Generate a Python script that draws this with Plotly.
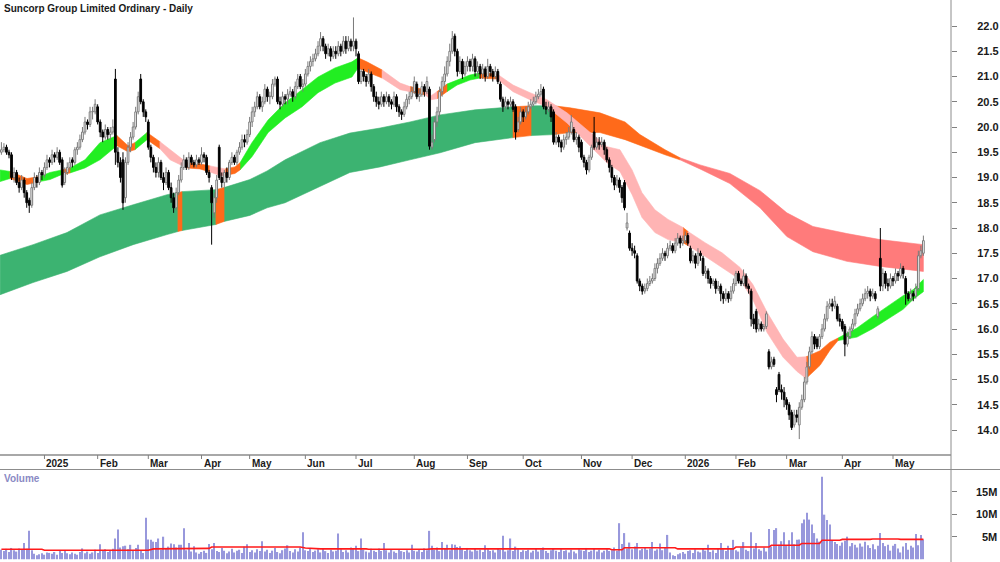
import plotly.graph_objects as go

TITLE = "Suncorp Group Limited Ordinary - Daily"

month_labels = ["2025", "Feb", "Mar", "Apr", "May", "Jun", "Jul", "Aug", "Sep",
                "Oct", "Nov", "Dec", "2026", "Feb", "Mar", "Apr", "May"]
month_start_idx = [17, 38, 58, 79, 98, 120, 140, 163, 184, 206, 229, 249, 270, 290, 310, 332, 352]

price_ticks = [14.0, 14.5, 15.0, 15.5, 16.0, 16.5, 17.0, 17.5, 18.0, 18.5,
               19.0, 19.5, 20.0, 20.5, 21.0, 21.5, 22.0]
volume_ticks = [5, 10, 15]
volume_tick_text = ["5M", "10M", "15M"]

opens = [
    19.5, 19.55, 19.6, 19.5, 19.45, 19.0, 19.1, 18.9, 18.8, 18.95,
    18.7, 18.55, 18.45, 18.8, 19.0, 18.9, 19.1, 19.05, 19.2, 19.35,
    19.3, 19.45, 19.4, 19.5, 19.35, 18.9, 19.1, 19.2, 19.35, 19.3,
    19.55, 19.6, 19.75, 19.9, 20.1, 20.05, 20.3, 20.3, 20.4, 20.1,
    19.9, 19.8, 19.95, 19.85, 19.9, 20.95, 19.5, 19.3, 19.35, 18.6,
    19.3, 19.6, 19.8, 20.0, 20.3, 20.95, 20.5, 20.3, 20.1, 19.6,
    19.4, 19.2, 19.1, 19.3, 19.0, 18.9, 19.1, 18.8, 18.6, 18.4,
    18.7, 18.95, 19.2, 19.35, 19.2, 19.4, 19.3, 19.25, 19.35, 19.3,
    19.45, 19.4, 19.1, 18.8, 18.3, 18.6, 19.6, 19.0, 18.9, 19.1,
    19.0, 19.3, 19.4, 19.3, 19.5, 19.6, 19.75, 19.7, 19.85, 20.1,
    20.3, 20.4, 20.6, 20.4, 20.5, 20.75, 20.6, 20.6, 20.85, 20.95,
    20.5, 20.45, 20.6, 20.55, 20.65, 20.7, 20.6, 20.8, 21.0, 20.8,
    20.85, 21.05, 21.2, 21.3, 21.35, 21.45, 21.6, 21.75, 21.6, 21.45,
    21.55, 21.4, 21.5, 21.45, 21.6, 21.5, 21.7, 21.55, 21.7, 21.6,
    21.7, 21.45, 20.9, 21.1, 21.0, 20.9, 21.05, 20.8, 20.6, 20.5,
    20.45, 20.6, 20.5, 20.6, 20.5, 20.45, 20.6, 20.4, 20.3, 20.25,
    20.4, 20.55, 20.6, 20.7, 20.85, 20.6, 20.65, 20.8, 20.7, 20.75,
    19.6, 19.75, 20.1, 20.3, 20.7, 20.9, 21.05, 21.3, 21.5, 21.8,
    21.5, 21.1, 21.3, 21.05, 21.2, 21.3, 21.2, 21.35, 21.1, 21.2,
    21.05, 21.15, 21.0, 21.2, 21.1, 21.0, 21.1, 20.85, 20.55, 20.4,
    20.5, 20.45, 20.5, 20.4, 19.95, 20.1, 20.3, 20.2, 20.3, 20.4,
    20.45, 20.5, 20.6, 20.65, 20.75, 20.4, 20.35, 20.4, 20.3, 19.7,
    19.8, 19.7, 19.6, 19.75, 19.8, 19.9, 19.95, 19.75, 19.8, 19.7,
    19.4, 19.3, 19.15, 19.4, 19.9, 19.6, 19.7, 19.65, 19.7, 19.55,
    19.35, 19.2, 19.0, 18.85, 18.95, 18.8, 18.9, 18.0, 17.9, 17.6,
    17.55, 17.45, 16.95, 16.85, 16.75, 16.8, 16.9, 16.95, 17.0, 17.2,
    17.3, 17.4, 17.5, 17.45, 17.6, 17.65, 17.55, 17.7, 17.8, 17.7,
    17.75, 17.85, 17.6, 17.35, 17.45, 17.3, 17.5, 17.4, 17.1, 17.15,
    17.0, 16.9, 16.95, 16.8, 16.85, 16.7, 16.6, 16.7, 16.6, 16.75,
    16.9, 17.1, 16.95, 16.9, 17.05, 16.85, 16.75, 16.2, 16.35, 16.0,
    16.1, 16.0, 16.05, 15.55, 15.25, 15.4, 14.8, 15.1, 14.8, 14.75,
    14.6, 14.5, 14.35, 14.1, 14.3, 14.1, 14.45, 14.6, 14.95, 15.25,
    15.55, 15.85, 15.8, 15.65, 15.85, 16.0, 16.2, 16.45, 16.5, 16.45,
    16.45, 16.2, 16.15, 16.05, 15.7, 15.85, 16.0, 16.1, 16.3, 16.4,
    16.5, 16.6, 16.7, 16.75, 16.65, 16.7, 16.25, 17.4, 16.85, 17.1,
    16.9, 16.85, 17.0, 16.95, 17.1, 17.05, 17.2, 17.0, 16.7, 16.6,
    16.7, 16.65, 16.8, 17.45, 17.5,
]

highs = [
    19.7, 19.68, 19.65, 19.55, 19.5, 19.2, 19.15, 19.0, 19.05, 19.0,
    18.75, 18.6, 18.9, 19.1, 19.05, 19.2, 19.15, 19.3, 19.45, 19.4,
    19.55, 19.5, 19.6, 19.55, 19.4, 19.2, 19.3, 19.4, 19.4, 19.6,
    19.7, 19.85, 20.0, 20.2, 20.15, 20.4, 20.4, 20.55, 20.45, 20.15,
    19.95, 20.05, 20.0, 20.0, 20.15, 21.15, 19.6, 19.4, 19.5, 19.4,
    19.7, 19.9, 20.1, 20.4, 20.7, 21.05, 20.55, 20.35, 20.15, 19.65,
    19.45, 19.3, 19.4, 19.35, 19.1, 19.2, 19.15, 18.9, 18.7, 18.8,
    19.05, 19.3, 19.45, 19.4, 19.5, 19.45, 19.35, 19.45, 19.4, 19.6,
    19.5, 19.45, 19.15, 18.85, 18.7, 19.05, 19.65, 19.1, 19.15, 19.2,
    19.35, 19.5, 19.45, 19.55, 19.7, 19.85, 19.85, 19.95, 20.2, 20.4,
    20.5, 20.7, 20.65, 20.6, 20.85, 20.8, 20.7, 20.95, 21.0, 21.0,
    20.6, 20.7, 20.65, 20.75, 20.8, 20.75, 20.9, 21.05, 21.05, 20.95,
    21.15, 21.3, 21.4, 21.45, 21.55, 21.7, 21.88, 21.8, 21.65, 21.65,
    21.6, 21.6, 21.6, 21.7, 21.65, 21.8, 21.8, 21.8, 21.75, 22.17,
    21.75, 21.5, 21.15, 21.15, 21.05, 21.15, 21.1, 20.85, 20.7, 20.6,
    20.7, 20.65, 20.7, 20.65, 20.55, 20.7, 20.65, 20.45, 20.35, 20.5,
    20.65, 20.7, 20.8, 21.0, 20.9, 20.75, 20.9, 20.85, 21.0, 20.8,
    19.85, 20.2, 20.4, 20.8, 21.0, 21.2, 21.4, 21.65, 21.9, 21.85,
    21.55, 21.4, 21.35, 21.3, 21.4, 21.35, 21.45, 21.4, 21.3, 21.25,
    21.25, 21.2, 21.35, 21.25, 21.15, 21.2, 21.15, 20.9, 20.6, 20.6,
    20.55, 20.6, 20.55, 20.45, 20.2, 20.4, 20.35, 20.4, 20.5, 20.55,
    20.6, 20.7, 20.75, 20.85, 20.8, 20.5, 20.5, 20.45, 20.35, 19.9,
    19.85, 19.75, 19.85, 19.9, 20.0, 20.24, 20.0, 19.9, 19.85, 19.75,
    19.45, 19.35, 19.45, 19.65, 20.2, 19.8, 19.8, 19.8, 19.75, 19.6,
    19.4, 19.25, 19.05, 19.05, 19.0, 18.85, 18.95, 18.3, 17.95, 17.7,
    17.65, 17.5, 17.0, 16.9, 16.9, 17.0, 17.05, 17.1, 17.3, 17.4,
    17.5, 17.6, 17.55, 17.7, 17.75, 17.7, 17.8, 17.9, 17.85, 17.85,
    17.93, 17.9, 17.65, 17.55, 17.5, 17.6, 17.55, 17.45, 17.25, 17.2,
    17.05, 17.0, 17.0, 16.95, 16.9, 16.75, 16.8, 16.75, 16.85, 17.0,
    17.15, 17.15, 17.0, 17.18, 17.1, 16.9, 16.8, 16.3, 16.4, 16.2,
    16.15, 16.1, 16.35, 15.6, 15.45, 15.45, 14.85, 15.15, 14.9, 14.85,
    14.65, 14.55, 14.4, 14.4, 14.4, 14.55, 14.7, 15.05, 15.35, 15.65,
    15.95, 15.9, 15.85, 15.9, 16.1, 16.3, 16.55, 16.6, 16.6, 16.65,
    16.5, 16.3, 16.2, 16.1, 15.95, 16.05, 16.2, 16.4, 16.5, 16.6,
    16.7, 16.8, 16.85, 16.8, 16.8, 16.75, 16.45, 18.0, 17.2, 17.15,
    17.0, 17.1, 17.05, 17.2, 17.15, 17.3, 17.25, 17.05, 16.75, 16.8,
    16.75, 16.9, 17.55, 17.65, 17.85,
]

lows = [
    19.45, 19.5, 19.45, 19.38, 18.95, 18.9, 18.85, 18.7, 18.75, 18.6,
    18.4, 18.3, 18.4, 18.75, 18.8, 18.85, 18.95, 19.0, 19.15, 19.2,
    19.25, 19.3, 19.35, 19.25, 18.8, 18.85, 19.05, 19.15, 19.2, 19.25,
    19.45, 19.55, 19.7, 19.85, 19.95, 20.0, 20.15, 20.25, 20.05, 19.8,
    19.7, 19.75, 19.75, 19.75, 19.85, 19.25, 19.2, 18.9, 18.36, 18.5,
    19.25, 19.5, 19.75, 19.95, 20.25, 20.45, 20.2, 20.1, 19.55, 19.3,
    19.1, 19.0, 19.0, 18.95, 18.75, 18.85, 18.75, 18.5, 18.3, 18.35,
    18.65, 18.9, 19.15, 19.15, 19.15, 19.25, 19.2, 19.2, 19.25, 19.25,
    19.3, 19.05, 18.9, 17.67, 18.2, 18.5, 18.95, 18.8, 18.8, 18.9,
    18.95, 19.25, 19.25, 19.25, 19.45, 19.55, 19.6, 19.65, 19.8, 20.0,
    20.2, 20.35, 20.35, 20.3, 20.45, 20.5, 20.45, 20.55, 20.8, 20.45,
    20.35, 20.4, 20.45, 20.45, 20.6, 20.5, 20.55, 20.75, 20.75, 20.7,
    20.8, 21.0, 21.1, 21.2, 21.3, 21.4, 21.5, 21.5, 21.35, 21.4,
    21.3, 21.35, 21.35, 21.4, 21.4, 21.45, 21.45, 21.5, 21.5, 21.5,
    21.4, 20.85, 20.85, 20.9, 20.8, 20.85, 20.7, 20.5, 20.4, 20.35,
    20.4, 20.4, 20.45, 20.4, 20.35, 20.4, 20.3, 20.2, 20.14, 20.2,
    20.35, 20.45, 20.55, 20.65, 20.55, 20.5, 20.6, 20.6, 20.65, 19.55,
    19.55, 19.7, 20.0, 20.2, 20.6, 20.8, 21.0, 21.2, 21.45, 21.4,
    21.0, 21.05, 20.95, 21.0, 21.1, 21.1, 21.1, 21.0, 21.0, 20.95,
    20.95, 20.9, 20.95, 21.0, 20.9, 20.95, 20.85, 20.5, 20.3, 20.35,
    20.35, 20.4, 20.3, 19.75, 19.9, 20.05, 20.1, 20.15, 20.25, 20.35,
    20.4, 20.45, 20.55, 20.6, 20.35, 20.25, 20.3, 20.1, 19.65, 19.65,
    19.6, 19.5, 19.55, 19.65, 19.75, 19.85, 19.7, 19.65, 19.5, 19.35,
    19.2, 19.06, 19.1, 19.35, 19.55, 19.55, 19.55, 19.6, 19.45, 19.3,
    19.1, 18.9, 18.75, 18.8, 18.7, 18.5, 18.35, 17.95, 17.55, 17.45,
    17.4, 16.9, 16.75, 16.68, 16.7, 16.75, 16.85, 16.9, 16.95, 17.1,
    17.25, 17.35, 17.35, 17.4, 17.55, 17.5, 17.5, 17.65, 17.6, 17.65,
    17.7, 17.65, 17.3, 17.3, 17.2, 17.25, 17.35, 17.05, 17.0, 16.9,
    16.8, 16.85, 16.7, 16.75, 16.55, 16.5, 16.55, 16.52, 16.55, 16.7,
    16.85, 16.9, 16.85, 16.85, 16.8, 16.7, 16.05, 16.0, 15.93, 15.95,
    15.95, 15.95, 16.0, 15.2, 15.2, 15.25, 14.55, 14.75, 14.6, 14.45,
    14.4, 14.2, 14.0, 14.05, 14.15, 13.82, 14.4, 14.55, 14.9, 15.2,
    15.5, 15.6, 15.6, 15.6, 15.8, 15.95, 16.15, 16.4, 16.35, 16.4,
    16.15, 16.05, 15.95, 15.46, 15.65, 15.8, 15.95, 16.05, 16.25, 16.35,
    16.45, 16.55, 16.6, 16.55, 16.6, 16.55, 16.2, 16.75, 16.75, 16.8,
    16.75, 16.8, 16.85, 16.9, 16.95, 17.0, 17.0, 16.48, 16.55, 16.55,
    16.55, 16.6, 16.75, 17.4, 17.45,
]

closes = [
    19.55, 19.6, 19.5, 19.45, 19.0, 19.1, 18.9, 18.8, 18.95, 18.7,
    18.5, 18.45, 18.8, 19.0, 18.9, 19.1, 19.05, 19.2, 19.35, 19.3,
    19.45, 19.4, 19.5, 19.3, 18.85, 19.1, 19.2, 19.3, 19.3, 19.55,
    19.6, 19.75, 19.9, 20.1, 20.05, 20.3, 20.3, 20.45, 20.1, 19.9,
    19.8, 19.95, 19.85, 19.9, 20.0, 19.5, 19.3, 19.0, 18.5, 19.3,
    19.6, 19.8, 20.0, 20.3, 20.6, 20.5, 20.3, 20.2, 19.6, 19.4,
    19.2, 19.1, 19.3, 19.0, 18.9, 19.1, 18.8, 18.6, 18.4, 18.7,
    18.95, 19.2, 19.35, 19.2, 19.4, 19.3, 19.25, 19.35, 19.3, 19.45,
    19.4, 19.1, 19.0, 18.5, 18.6, 18.95, 19.0, 18.9, 19.1, 19.0,
    19.3, 19.4, 19.3, 19.5, 19.6, 19.75, 19.7, 19.85, 20.1, 20.3,
    20.4, 20.6, 20.4, 20.5, 20.75, 20.6, 20.6, 20.85, 20.95, 20.5,
    20.45, 20.6, 20.55, 20.65, 20.7, 20.6, 20.8, 20.95, 20.8, 20.85,
    21.05, 21.2, 21.3, 21.35, 21.45, 21.6, 21.75, 21.6, 21.45, 21.55,
    21.4, 21.5, 21.45, 21.6, 21.5, 21.7, 21.55, 21.7, 21.6, 21.7,
    21.55, 20.9, 21.1, 21.0, 20.9, 21.05, 20.8, 20.6, 20.5, 20.45,
    20.6, 20.5, 20.6, 20.5, 20.45, 20.6, 20.4, 20.3, 20.25, 20.4,
    20.55, 20.6, 20.7, 20.9, 20.6, 20.65, 20.8, 20.7, 20.9, 19.62,
    19.7, 20.1, 20.3, 20.7, 20.9, 21.05, 21.3, 21.5, 21.75, 21.5,
    21.1, 21.3, 21.05, 21.2, 21.3, 21.2, 21.35, 21.1, 21.2, 21.05,
    21.15, 21.0, 21.2, 21.1, 21.0, 21.1, 20.9, 20.55, 20.4, 20.5,
    20.45, 20.5, 20.35, 19.9, 20.1, 20.3, 20.2, 20.3, 20.4, 20.45,
    20.5, 20.6, 20.65, 20.7, 20.4, 20.35, 20.4, 20.2, 19.7, 19.8,
    19.7, 19.6, 19.75, 19.8, 19.9, 20.1, 19.75, 19.8, 19.6, 19.4,
    19.3, 19.15, 19.4, 19.6, 19.6, 19.7, 19.65, 19.7, 19.55, 19.35,
    19.2, 19.0, 18.85, 18.95, 18.8, 18.6, 18.4, 18.1, 17.6, 17.55,
    17.5, 16.95, 16.85, 16.75, 16.8, 16.9, 16.95, 17.0, 17.2, 17.3,
    17.4, 17.5, 17.45, 17.6, 17.65, 17.55, 17.7, 17.8, 17.7, 17.75,
    17.85, 17.7, 17.35, 17.45, 17.3, 17.5, 17.45, 17.1, 17.15, 17.0,
    16.9, 16.95, 16.8, 16.85, 16.7, 16.6, 16.7, 16.6, 16.75, 16.9,
    17.1, 16.95, 16.9, 17.05, 16.85, 16.8, 16.2, 16.1, 16.0, 16.1,
    16.0, 16.05, 16.3, 15.25, 15.35, 15.3, 14.7, 14.8, 14.75, 14.6,
    14.5, 14.3, 14.05, 14.3, 14.25, 14.45, 14.6, 14.95, 15.25, 15.55,
    15.85, 15.7, 15.65, 15.85, 16.0, 16.2, 16.45, 16.5, 16.45, 16.55,
    16.2, 16.15, 16.0, 15.7, 15.85, 16.0, 16.1, 16.3, 16.4, 16.5,
    16.6, 16.7, 16.75, 16.65, 16.7, 16.6, 16.4, 16.85, 17.1, 16.9,
    16.85, 17.0, 16.95, 17.1, 17.05, 17.2, 17.1, 16.7, 16.6, 16.7,
    16.65, 16.8, 17.45, 17.55, 17.75,
]

# daily volume, millions of shares
volumes = [
    2.1, 1.8, 2.3, 1.6, 2.5, 2.0, 1.7, 2.4, 2.2, 3.6,
    2.3, 6.3, 2.0, 1.2, 0.9, 1.1, 1.3, 1.0, 1.5, 1.4,
    1.2, 1.6, 1.0, 1.8, 1.4, 1.9, 1.3, 1.1, 1.5, 1.2,
    1.0, 1.6, 2.4, 1.3, 1.7, 1.2, 1.5, 2.1, 1.4, 3.3,
    1.9, 2.2, 1.6, 2.0, 2.3, 4.6, 6.6, 2.6, 2.9, 3.0,
    2.2, 3.2, 1.8, 2.5, 3.2, 1.9, 1.4, 9.2, 4.4, 4.3,
    3.9, 3.8, 4.6, 2.1, 5.0, 2.4, 2.8, 3.5, 3.3, 2.6,
    3.2, 3.2, 6.9, 2.0, 3.6, 1.7, 2.9, 1.5, 1.2, 1.6,
    1.9, 1.4, 3.4, 2.2, 3.6, 1.8, 1.6, 2.5, 1.9, 1.3,
    1.7, 2.3, 1.5, 1.9, 2.1, 1.4, 2.8, 3.3, 1.6, 2.0,
    1.5, 2.2, 1.8, 4.0, 1.7, 2.1, 1.4, 1.9, 2.5, 1.6,
    1.3, 2.0, 2.4, 3.1, 1.8, 1.5, 2.2, 1.7, 2.6, 6.0,
    2.0, 1.8, 2.3, 1.6, 1.9, 2.2, 1.5, 2.4, 1.8, 1.4,
    2.1, 1.7, 1.9, 5.7, 2.2, 1.6, 2.0, 1.5, 2.6, 2.3,
    3.0, 1.8, 4.6, 2.1, 1.7, 1.5, 2.3, 1.9, 1.6, 2.4,
    1.8, 3.6, 2.0, 1.5, 2.2, 1.7, 1.4, 2.1, 1.8, 1.6,
    2.0, 1.5, 3.2, 1.9, 1.7, 2.2, 1.6, 2.4, 2.0, 6.3,
    3.0, 2.1, 2.6, 1.8, 3.8, 2.4, 3.2, 2.0, 3.3, 3.2,
    2.7, 2.9, 2.2, 1.8, 2.5, 2.0, 1.7, 2.3, 1.9, 2.1,
    1.6, 3.1, 2.2, 1.8, 2.0, 1.5, 2.4, 2.1, 5.2, 1.7,
    2.0, 4.6, 1.8, 2.8, 2.2, 1.6, 2.0, 1.8, 2.1, 1.5,
    1.9, 2.3, 1.7, 2.1, 2.6, 1.8, 1.4, 2.0, 2.4, 1.9,
    1.6, 2.2, 1.8, 2.0, 1.5, 2.1, 1.7, 1.3, 2.2, 2.0,
    1.8, 2.5, 1.6, 1.9, 2.3, 1.7, 2.1, 1.5, 1.9, 2.2,
    1.8, 2.0, 2.6, 1.9, 8.0, 3.4, 5.8, 2.4, 3.7, 2.2,
    2.8, 3.6, 2.0, 2.3, 2.7, 2.1, 2.4, 3.8, 1.9, 2.2,
    3.5, 2.0, 2.6, 5.4, 1.5, 0.9, 0.7, 1.1, 1.3, 1.6,
    1.2, 1.8, 2.0, 1.4, 2.2, 1.7, 1.5, 2.4, 1.9, 3.2,
    1.6, 2.0, 1.4, 2.5, 3.6, 2.2, 1.8, 3.0, 2.4, 4.3,
    2.0, 1.7, 2.6, 3.8, 2.1, 1.8, 6.0, 2.4, 3.6, 2.2,
    1.9, 2.6, 1.7, 6.7, 2.8, 6.5, 6.9, 3.2, 4.0, 6.0,
    3.1, 4.2, 6.0, 3.3, 4.3, 4.4, 8.0, 8.8, 10.3, 8.8,
    7.7, 5.8, 4.6, 3.9, 18.3, 9.9, 8.7, 7.7, 4.2, 3.8,
    3.4, 3.0, 3.7, 4.1, 5.0, 2.9, 3.6, 3.2, 2.6, 3.5,
    2.8, 3.9, 3.1, 2.5, 3.3, 2.2, 3.0, 5.8, 3.6, 2.9,
    3.2, 1.9, 3.0, 3.4, 2.4, 1.5, 2.8, 3.6, 2.1, 3.0,
    2.6, 5.6, 3.1, 5.4, 4.4,
]

# volume moving average, millions
vol_ma_idx = [0, 16, 17, 58, 60, 82, 83, 118, 120, 126, 144, 145, 168, 170, 240, 241, 245, 246,
              266, 267, 289, 290, 303, 304, 315, 316, 323, 324, 331, 332, 343, 344, 354, 355, 364]
vol_ma = [2.2, 2.2, 2.0, 2.0, 2.3, 2.4, 2.7, 2.7, 2.5, 2.3, 2.3, 2.2, 2.2, 2.3, 2.3, 2.1, 2.1, 2.55,
          2.55, 2.3, 2.3, 2.7, 2.7, 3.1, 3.1, 3.5, 3.5, 4.2, 4.2, 4.4, 4.4, 4.5, 4.5, 4.4, 4.4]

# short-term moving-average ribbon (upper / lower edge), state of the following stretch
short_idx = [-0.5, 3.4, 10.1, 15.2, 19.2, 23.9, 27.1, 33.0, 38.9, 45.6, 50.0, 52.7, 57.5, 61.4,
             62.6, 66.6, 73.3, 78.4, 82.3, 86.3, 88.3, 92.2, 94.2, 98.9, 105.3, 112.0, 118.7,
             125.0, 131.7, 138.4, 140.8, 144.3, 150.3, 157.4, 161.3, 167.2, 169.6, 172.0, 175.9,
             179.9, 185.0, 188.9, 195.7, 202.0, 208.7, 215.4, 223.3, 231.2, 239.1, 244.2, 249.0,
             252.9, 258.0, 263.2, 269.1, 271.1, 277.8, 284.5, 291.6, 296.7, 302.3, 308.6, 314.1,
             317.7, 323.2, 327.1, 330.3, 337.8, 344.1, 350.8, 356.0, 360.0, 364.0]
short_hi = [19.15, 19.12, 18.98, 19.02, 19.10, 19.15, 19.19, 19.35, 19.69, 19.83, 19.63, 19.69,
            19.89, 19.75, 19.71, 19.55, 19.29, 19.27, 19.23, 19.19, 19.17, 19.21, 19.29, 19.69,
            20.14, 20.48, 20.74, 20.99, 21.17, 21.29, 21.37, 21.29, 21.13, 20.87, 20.80, 20.74,
            20.62, 20.70, 20.85, 20.93, 21.03, 21.07, 21.05, 20.83, 20.68, 20.54, 20.28, 19.95,
            19.61, 19.55, 19.15, 18.70, 18.36, 18.17, 18.01, 17.93, 17.71, 17.51, 17.22, 16.88,
            16.33, 15.80, 15.44, 15.45, 15.57, 15.74, 15.82, 16.02, 16.25, 16.49, 16.66, 16.78,
            16.98]
short_lo = [18.92, 18.98, 18.86, 18.92, 18.96, 19.06, 19.09, 19.19, 19.35, 19.63, 19.51, 19.55,
            19.75, 19.61, 19.57, 19.35, 19.19, 19.17, 19.11, 19.04, 19.04, 19.08, 19.15, 19.41,
            19.89, 20.18, 20.40, 20.68, 20.87, 20.99, 21.17, 21.09, 20.97, 20.74, 20.70, 20.64,
            20.54, 20.56, 20.70, 20.83, 20.93, 20.97, 20.95, 20.70, 20.54, 20.40, 20.08, 19.69,
            19.29, 19.12, 18.66, 18.21, 17.91, 17.77, 17.71, 17.65, 17.44, 17.22, 16.98, 16.58,
            15.93, 15.44, 15.16, 15.02, 15.28, 15.58, 15.77, 15.84, 16.01, 16.23, 16.39, 16.59,
            16.74]
short_state = ["up", "mixed", "mixed", "up", "up", "mixed", "up", "up", "up", "mixed", "mixed",
               "up", "mixed", "mixed", "down", "down", "mixed", "mixed", "down", "down", "mixed",
               "mixed", "up", "up", "up", "up", "up", "up", "up", "up", "mixed", "mixed", "down",
               "down", "mixed", "down", "down", "mixed", "up", "up", "up", "mixed", "down", "down",
               "down", "down", "down", "down", "down", "down", "down", "down", "down", "down",
               "mixed", "down", "down", "down", "down", "down", "down", "down", "down", "mixed",
               "mixed", "mixed", "up", "up", "up", "up", "up", "up", "up"]

# long-term moving-average ribbon
long_idx = [-0.5, 12.5, 25.9, 38.9, 52.0, 65.4, 69.7, 71.3, 78.4, 84.7, 87.9, 98.1, 104.9, 112.0,
            125.8, 137.6, 149.5, 161.3, 173.2, 187.0, 202.0, 209.1, 218.2, 224.5, 236.3, 246.2,
            252.1, 262.0, 267.9, 275.8, 287.6, 299.5, 310.1, 320.4, 333.8, 346.9, 364.0]
long_hi = [17.46, 17.67, 17.91, 18.26, 18.46, 18.66, 18.70, 18.72, 18.74, 18.76, 18.80, 18.96,
           19.13, 19.35, 19.69, 19.88, 19.98, 20.10, 20.24, 20.34, 20.40, 20.42, 20.42, 20.38,
           20.28, 20.10, 19.85, 19.55, 19.39, 19.25, 19.08, 18.74, 18.30, 18.03, 17.89, 17.77,
           17.67]
long_lo = [16.68, 16.92, 17.14, 17.43, 17.67, 17.87, 17.93, 17.95, 18.01, 18.07, 18.13, 18.25,
           18.40, 18.50, 18.82, 19.10, 19.21, 19.35, 19.49, 19.69, 19.79, 19.83, 19.85, 19.89,
           19.89, 19.75, 19.63, 19.45, 19.35, 19.17, 18.88, 18.40, 17.83, 17.53, 17.34, 17.24,
           17.14]
long_state = ["up", "up", "up", "up", "up", "up", "mixed", "up", "up", "mixed", "up", "up", "up",
              "up", "up", "up", "up", "up", "up", "up", "mixed", "up", "mixed", "mixed", "mixed",
              "mixed", "mixed", "mixed", "down", "down", "down", "down", "down", "down", "down",
              "down", "down"]

assert len(opens) == len(highs) == len(lows) == len(closes) == len(volumes)
assert len(short_idx) == len(short_hi) == len(short_lo) == len(short_state)
assert len(long_idx) == len(long_hi) == len(long_lo) == len(long_state)

idx = list(range(len(closes)))

# ---------------------------------------------------------------- styling
FONT = "Liberation Sans, Arial, sans-serif"
W, H = 1000, 562
PLOT_R = 951            # pixel x of right axis line
X_RANGE = [-0.553, 374.9]
Y_RANGE = [13.505, 22.515]
SHORT_COLORS = {"up": "#22ee22", "mixed": "#ff6a1a", "down": "#ffb4b4"}
LONG_COLORS = {"up": "#3cb371", "mixed": "#ff6a1a", "down": "#ff7b7b"}
UP_EDGE = "#7a7a7a"


def py(px):
    return 1 - px / H


fig = go.Figure()


def add_ribbon(xs, hi, lo, states, cmap):
    n = len(xs)
    runs = []
    s = 0
    for k in range(1, n):
        if k == n - 1 or states[k] != states[s]:
            runs.append((s, k, states[s]))
            s = k
    for st, color in cmap.items():
        X, Y = [], []
        for a, b, sst in runs:
            if sst != st:
                continue
            xx = xs[a:b + 1]
            X += xx + xx[::-1] + [xx[0], None]
            Y += hi[a:b + 1] + lo[a:b + 1][::-1] + [hi[a], None]
        if X:
            fig.add_trace(go.Scatter(
                x=X, y=Y, mode="lines", fill="toself", fillcolor=color,
                line=dict(width=0.6, color=color), hoverinfo="skip",
                showlegend=False, xaxis="x", yaxis="y"))


add_ribbon(long_idx, long_hi, long_lo, long_state, LONG_COLORS)
add_ribbon(short_idx, short_hi, short_lo, short_state, SHORT_COLORS)

# ---- candles on an overlaying axis so they sit above the ribbons
for rising, fill, edge in [(True, "white", UP_EDGE), (False, "black", "black")]:
    sel = [i for i in idx if (closes[i] >= opens[i]) == rising]
    wx, wy = [], []
    for i in sel:
        top = max(opens[i], closes[i])
        bot = min(opens[i], closes[i])
        wx += [i, i, None, i, i, None]
        wy += [highs[i], top, None, bot, lows[i], None]
    fig.add_trace(go.Scatter(x=wx, y=wy, mode="lines", line=dict(color=edge, width=1),
                             hoverinfo="skip", showlegend=False, xaxis="x3", yaxis="y3"))
    fig.add_trace(go.Bar(
        x=sel,
        y=[max(abs(closes[i] - opens[i]), 0.012) for i in sel],
        base=[min(opens[i], closes[i]) for i in sel],
        width=0.68, marker=dict(color=fill, line=dict(color=edge, width=1)),
        hoverinfo="skip", showlegend=False, xaxis="x3", yaxis="y3"))

fig.add_trace(go.Bar(
    x=idx, y=volumes, width=0.5, marker=dict(color="#9898dc", line=dict(width=0)),
    hoverinfo="skip", showlegend=False, xaxis="x2", yaxis="y2"))
fig.add_trace(go.Scatter(
    x=vol_ma_idx, y=vol_ma, mode="lines", line=dict(color="#ff1a1a", width=1.6),
    hoverinfo="skip", showlegend=False, xaxis="x2", yaxis="y2"))

shapes = [
    dict(type="line", xref="paper", yref="paper", x0=0, x1=1, y0=py(455), y1=py(455),
         line=dict(color="#a8a8a8", width=2)),
    dict(type="line", xref="paper", yref="paper", x0=0, x1=W / PLOT_R, y0=py(469.5), y1=py(469.5),
         line=dict(color="#8c8c8c", width=1)),
    dict(type="line", xref="paper", yref="paper", x0=1, x1=1, y0=0, y1=1,
         line=dict(color="#8c8c8c", width=1)),
]
annotations = [
    dict(text=TITLE, xref="paper", yref="paper", x=2 / PLOT_R, y=py(8.5), xanchor="left",
         yanchor="middle", showarrow=False,
         font=dict(family=FONT, size=10, color="#1a1a1a", weight="bold")),
    dict(text="Volume", xref="paper", yref="paper", x=2 / PLOT_R, y=py(478), xanchor="left",
         yanchor="middle", showarrow=False,
         font=dict(family=FONT, size=10, color="#8a8ac4", weight="bold")),
]
for lab, mi in zip(month_labels, month_start_idx):
    shapes.append(dict(type="line", xref="x", yref="paper", x0=mi, x1=mi, y0=py(459), y1=py(455),
                       line=dict(color="#808080", width=1)))
    annotations.append(dict(text=lab, xref="x", yref="paper", x=mi, y=py(463), xanchor="left",
                            yanchor="middle", xshift=0, showarrow=False,
                            font=dict(family=FONT, size=10, color="#1a1a1a", weight="bold")))
for v, t in zip(volume_ticks, volume_tick_text):
    annotations.append(dict(text=t, xref="paper", yref="y2", x=999 / PLOT_R, y=v, xanchor="right",
                            yanchor="middle", showarrow=False,
                            font=dict(family=FONT, size=11, color="#1a1a1a", weight="bold")))

fig.update_layout(
    width=W, height=H, autosize=False,
    margin=dict(l=0, r=W - PLOT_R, t=0, b=0, pad=0),
    paper_bgcolor="white", plot_bgcolor="white", showlegend=False,
    barmode="overlay",
    xaxis=dict(domain=[0, 1], range=X_RANGE, visible=False, anchor="y", fixedrange=True),
    xaxis2=dict(domain=[0, 1], range=X_RANGE, visible=False, anchor="y2", fixedrange=True),
    xaxis3=dict(domain=[0, 1], range=X_RANGE, visible=False, anchor="y3", overlaying="x",
                fixedrange=True),
    yaxis=dict(domain=[py(455), 1], range=Y_RANGE, side="right", anchor="x",
               tickvals=price_ticks, ticktext=[f"{v:.1f}" for v in price_ticks],
               ticks="outside", ticklen=5, tickcolor="#808080", ticklabelstandoff=18,
               tickfont=dict(family=FONT, size=11, color="#1a1a1a", weight="bold"),
               showgrid=False, zeroline=False, showline=False, fixedrange=True),
    yaxis3=dict(domain=[py(455), 1], range=Y_RANGE, overlaying="y", anchor="x3", visible=False,
                fixedrange=True),
    yaxis2=dict(domain=[0, 1 - 470 / H], range=[-0.62, 19.82], side="right", anchor="x2",
                tickvals=volume_ticks, showticklabels=False, ticks="outside", ticklen=5,
                tickcolor="#808080", showgrid=False, zeroline=False, showline=False,
                fixedrange=True),
    shapes=shapes, annotations=annotations,
)

fig.write_html("out.html")
